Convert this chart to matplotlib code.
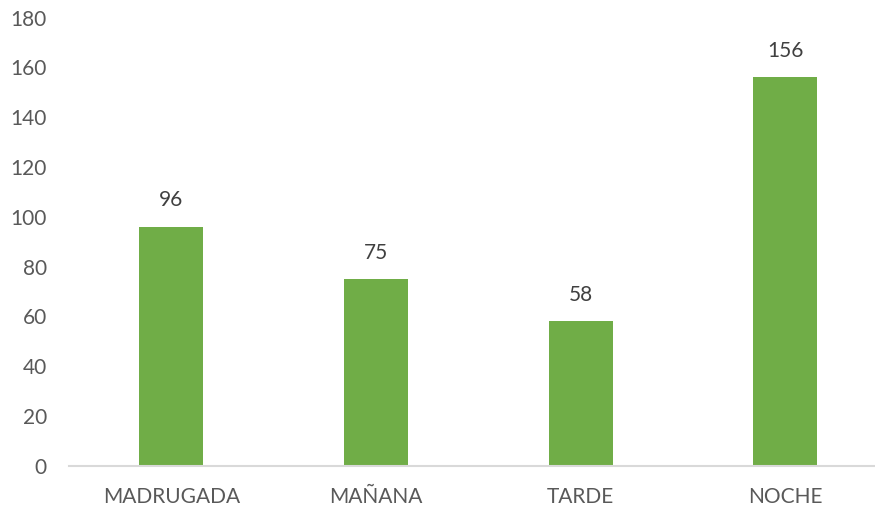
import matplotlib.pyplot as plt

# datos
categorias = ['MADRUGADA', 'MAÑANA', 'TARDE', 'NOCHE']
valores = [96, 75, 58, 156]
y_ticks = [0, 20, 40, 60, 80, 100, 120, 140, 160, 180]

plt.rcParams['font.family'] = ['Lato', 'DejaVu Sans']

fig = plt.figure(figsize=(8.75, 5.07), dpi=100)
ax = fig.add_axes([69 / 875, 41 / 507, 1 - 69 / 875, 448.5 / 507])

x = range(len(categorias))
barras = ax.bar(x, valores, width=0.313, color='#70ad47')

for b, v in zip(barras, valores):
    ax.annotate(str(v), xy=(b.get_x() + b.get_width() / 2, v),
                xytext=(0, 19), textcoords='offset points',
                ha='center', va='center', fontsize=15, color='#404040')

ax.set_xlim(-0.5, 3.438)
ax.set_ylim(0, 180)
ax.set_yticks(y_ticks)
ax.set_xticks(list(x))
ax.set_xticklabels(categorias)

ax.tick_params(axis='both', length=0, labelsize=15, labelcolor='#595959')
ax.tick_params(axis='y', pad=16)
ax.tick_params(axis='x', pad=15)

for s in ['top', 'right', 'left']:
    ax.spines[s].set_visible(False)
ax.spines['bottom'].set_color('#d9d9d9')
ax.spines['bottom'].set_linewidth(1.5)

fig.savefig('out.png', dpi=100)
